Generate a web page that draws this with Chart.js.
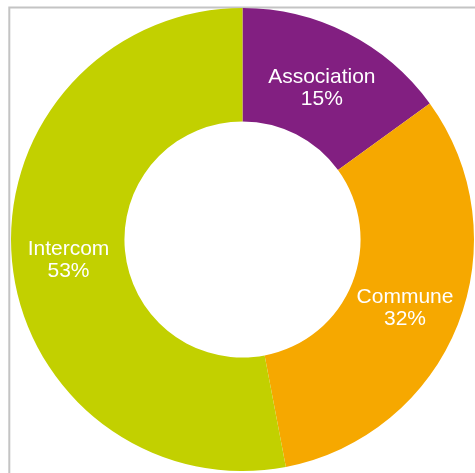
<!DOCTYPE html>
<html>
<head>
<meta charset="utf-8">
<script src="https://cdn.jsdelivr.net/npm/chart.js@4/dist/chart.umd.min.js"></script>
<style>
  html, body { margin: 0; padding: 0; background: #ffffff; }
  #wrap { position: relative; width: 475px; height: 473px; }
</style>
</head>
<body>
<div id="wrap"><canvas id="c" width="475" height="473"></canvas></div>
<script>
const categories = ["Association", "Commune", "Intercom"];
const shares = [15, 32, 53];
const pctLabels = ["15%", "32%", "53%"];
const colours = ["#821F81", "#F6A800", "#C2D000"];

const framePlugin = {
  id: 'frame',
  beforeDraw(chart) {
    const ctx = chart.ctx;
    ctx.save();
    ctx.strokeStyle = '#c4c4c4';
    ctx.lineWidth = 2;
    ctx.strokeRect(9.3, 7.5, 600, 600);
    ctx.restore();
  }
};

const labelPlugin = {
  id: 'sliceLabels',
  afterDatasetsDraw(chart) {
    const ctx = chart.ctx;
    const meta = chart.getDatasetMeta(0);
    ctx.save();
    ctx.fillStyle = '#ffffff';
    ctx.font = '21px "Liberation Sans", Arial, sans-serif';
    ctx.textAlign = 'center';
    ctx.textBaseline = 'alphabetic';
    meta.data.forEach((arc, i) => {
      const p = arc.getCenterPoint();
      ctx.fillText(categories[i], p.x, p.y - 1);
      ctx.fillText(pctLabels[i], p.x, p.y + 21.5);
    });
    ctx.restore();
  }
};

new Chart(document.getElementById('c'), {
  type: 'doughnut',
  data: {
    labels: categories,
    datasets: [{
      data: shares,
      backgroundColor: colours,
      borderWidth: 0,
      hoverOffset: 0,
      offset: 0
    }]
  },
  options: {
    responsive: false,
    animation: false,
    cutout: '51%',
    layout: { padding: { left: 11, top: 8, right: 1, bottom: 2 } },
    plugins: {
      legend: { display: false },
      tooltip: { enabled: false }
    }
  },
  plugins: [framePlugin, labelPlugin]
});
</script>
</body>
</html>
